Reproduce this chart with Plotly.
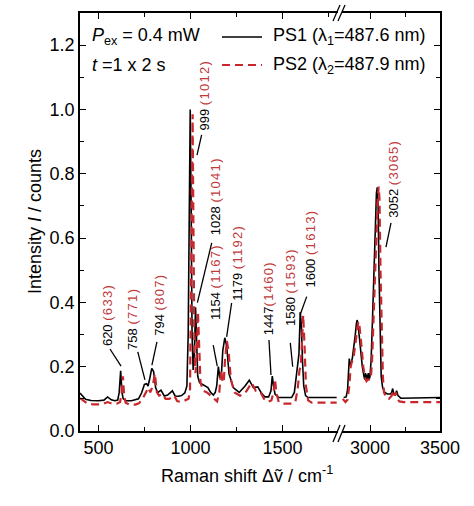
import plotly.graph_objects as go

# ---------------- data ----------------
# PS1 (black, solid) - low wavenumber segment
ps1_x_low = [400, 415, 430, 460, 500, 530, 550, 570, 590, 605, 613, 621, 628, 635, 650, 680, 700, 718, 735,
             750, 762, 770, 778, 790, 800, 811, 822, 840, 858, 876, 902, 917, 935, 952, 970, 981, 988, 994,
             999, 1004, 1009, 1015, 1022, 1028, 1034, 1040, 1050, 1065, 1080, 1095, 1110, 1125, 1135, 1143,
             1152, 1160, 1168, 1176, 1187, 1197, 1210, 1233, 1265, 1297, 1320, 1342, 1366, 1384, 1405, 1425,
             1438, 1445, 1452, 1460, 1478, 1510, 1550, 1565, 1575, 1583, 1590, 1597, 1603, 1609, 1616, 1626,
             1640, 1680, 1740, 1795]
ps1_y_low = [0.118, 0.108, 0.099, 0.095, 0.094, 0.096, 0.106, 0.097, 0.094, 0.096, 0.12, 0.187, 0.12, 0.10,
             0.094, 0.094, 0.096, 0.10, 0.119, 0.145, 0.147, 0.14, 0.16, 0.195, 0.185, 0.135, 0.119, 0.127,
             0.109, 0.112, 0.125, 0.109, 0.108, 0.11, 0.119, 0.14, 0.30, 0.70, 1.00, 0.70, 0.30, 0.19, 0.25,
             0.385, 0.25, 0.17, 0.15, 0.145, 0.14, 0.135, 0.12, 0.112, 0.12, 0.14, 0.20, 0.165, 0.17, 0.25,
             0.29, 0.265, 0.178, 0.135, 0.12, 0.14, 0.158, 0.135, 0.137, 0.12, 0.106, 0.106, 0.125, 0.171,
             0.14, 0.115, 0.104, 0.103, 0.104, 0.12, 0.17, 0.20, 0.24, 0.37, 0.33, 0.22, 0.14, 0.11, 0.104,
             0.104, 0.104, 0.104]

# PS2 (red, dashed) - low wavenumber segment
ps2_x_low = [400, 420, 440, 470, 520, 550, 575, 600, 618, 626, 633, 640, 648, 670, 700, 720, 740, 758, 771,
             782, 795, 807, 818, 830, 848, 865, 885, 912, 928, 950, 975, 990, 998, 1005, 1012, 1017, 1022,
             1028, 1035, 1041, 1047, 1055, 1070, 1090, 1110, 1130, 1145, 1157, 1167, 1175, 1182, 1188, 1198,
             1207, 1220, 1240, 1270, 1300, 1315, 1333, 1355, 1380, 1400, 1420, 1440, 1452, 1460, 1467, 1480,
             1510, 1550, 1570, 1583, 1593, 1600, 1607, 1613, 1620, 1628, 1640, 1660, 1720, 1795]
ps2_y_low = [0.102, 0.092, 0.085, 0.083, 0.083, 0.09, 0.085, 0.085, 0.09, 0.12, 0.17, 0.11, 0.088, 0.082,
             0.082, 0.086, 0.10, 0.12, 0.135, 0.12, 0.14, 0.178, 0.12, 0.11, 0.115, 0.10, 0.10, 0.11, 0.093,
             0.09, 0.095, 0.10, 0.13, 0.50, 0.985, 0.60, 0.25, 0.18, 0.25, 0.37, 0.25, 0.15, 0.125, 0.12,
             0.11, 0.10, 0.092, 0.12, 0.19, 0.15, 0.16, 0.22, 0.28, 0.25, 0.16, 0.12, 0.11, 0.12, 0.135,
             0.15, 0.125, 0.122, 0.10, 0.09, 0.095, 0.12, 0.16, 0.12, 0.09, 0.085, 0.085, 0.09, 0.13, 0.19,
             0.20, 0.28, 0.36, 0.27, 0.14, 0.095, 0.088, 0.088, 0.088]

# PS1 - high wavenumber segment
ps1_x_high = [2812, 2830, 2840, 2846, 2852, 2858, 2866, 2875, 2885, 2895, 2903, 2908, 2914, 2922, 2932, 2945,
              2957, 2963, 2968, 2973, 2978, 2983, 2988, 2994, 3000, 3008, 3018, 3028, 3038, 3046, 3052, 3058,
              3064, 3072, 3080, 3090, 3105, 3125, 3145, 3155, 3162, 3170, 3180, 3190, 3200, 3220, 3260, 3350,
              3440, 3500]
ps1_y_high = [0.104, 0.106, 0.13, 0.19, 0.225, 0.205, 0.21, 0.23, 0.26, 0.30, 0.335, 0.345, 0.335, 0.30,
              0.25, 0.20, 0.17, 0.16, 0.18, 0.16, 0.175, 0.16, 0.18, 0.16, 0.17, 0.22, 0.35, 0.52, 0.66,
              0.74, 0.758, 0.70, 0.50, 0.30, 0.17, 0.135, 0.12, 0.115, 0.115, 0.12, 0.132, 0.115, 0.112,
              0.125, 0.11, 0.102, 0.102, 0.102, 0.102, 0.104]

# PS2 - high wavenumber segment
ps2_x_high = [2805, 2825, 2840, 2852, 2862, 2870, 2880, 2892, 2905, 2915, 2922, 2930, 2940, 2952, 2965, 2975,
              2985, 2995, 3005, 3015, 3025, 3035, 3045, 3055, 3062, 3068, 3075, 3083, 3092, 3100, 3115, 3135,
              3155, 3168, 3175, 3185, 3195, 3210, 3240, 3300, 3400, 3500]
ps2_y_high = [0.10, 0.09, 0.098, 0.14, 0.20, 0.215, 0.22, 0.26, 0.31, 0.335, 0.34, 0.31, 0.26, 0.20, 0.165,
              0.155, 0.16, 0.16, 0.16, 0.22, 0.35, 0.50, 0.64, 0.72, 0.76, 0.72, 0.50, 0.30, 0.17, 0.12,
              0.105, 0.10, 0.11, 0.125, 0.11, 0.12, 0.10, 0.092, 0.09, 0.09, 0.09, 0.09]

# peak labels (PS1 value, PS2 value)
peaks_ps1 = [620, 758, 794, 999, 1028, 1154, 1179, 1447, 1580, 1600, 3052]
peaks_ps2 = [633, 771, 807, 1012, 1041, 1167, 1192, 1460, 1593, 1613, 3065]

x_ticks_low = [500, 1000, 1500]
x_ticks_high = [3000, 3500]

# ---------------- styling / layout ----------------
BLACK = "#000000"
RED = "#c8282d"
RED_TXT = "#c0393b"
FONT = "Arial, Liberation Sans, sans-serif"

W, H = 474, 506
ML, MR, MT, MB = 80, 34, 13, 75
PW, PH = W - ML - MR, H - MT - MB
split_left = (337.6 - ML) / PW
split_right = (342 - ML) / PW

fig = go.Figure()
fig.add_trace(go.Scatter(x=ps1_x_low, y=ps1_y_low, mode="lines", line=dict(color=BLACK, width=1.6),
                         xaxis="x", yaxis="y", name="PS1", showlegend=False))
fig.add_trace(go.Scatter(x=ps1_x_high, y=ps1_y_high, mode="lines", line=dict(color=BLACK, width=1.6),
                         xaxis="x2", yaxis="y2", name="PS1", showlegend=False))
fig.add_trace(go.Scatter(x=ps2_x_low, y=ps2_y_low, mode="lines",
                         line=dict(color=RED, width=2.2, dash="8px,5px"),
                         xaxis="x", yaxis="y", name="PS2", showlegend=False))
fig.add_trace(go.Scatter(x=ps2_x_high, y=ps2_y_high, mode="lines",
                         line=dict(color=RED, width=2.2, dash="8px,5px"),
                         xaxis="x2", yaxis="y2", name="PS2", showlegend=False))

axis_common = dict(showgrid=False, zeroline=False, showline=True, linecolor="black", linewidth=1.6,
                   ticks="inside", ticklen=6, tickwidth=1.4, tickcolor="black",
                   tickfont=dict(family=FONT, size=18, color="black"))

fig.update_layout(
    width=W, height=H, margin=dict(l=ML, r=MR, t=MT, b=MB, autoexpand=False),
    paper_bgcolor="white", plot_bgcolor="white",
    xaxis=dict(domain=[0, split_left], range=[400, 1800], anchor="y", mirror="ticks",
               tickvals=x_ticks_low, minor=dict(ticks="inside", ticklen=4, dtick=250, tick0=0,
                                                tickcolor="black", tickwidth=1.2),
               **axis_common),
    xaxis2=dict(domain=[split_right, 1], range=[2800, 3500], anchor="y2", mirror="ticks",
                tickvals=x_ticks_high, minor=dict(ticks="inside", ticklen=4, dtick=250, tick0=0,
                                                  tickcolor="black", tickwidth=1.2),
                **axis_common),
    yaxis=dict(domain=[0, 1], range=[0, 1.3], anchor="x", dtick=0.2, tickformat=".1f",
               minor=dict(ticks="inside", ticklen=4, dtick=0.1, tickcolor="black", tickwidth=1.2),
               **axis_common),
    yaxis2=dict(domain=[0, 1], matches="y", anchor="x2", side="right", showticklabels=False, dtick=0.2,
                minor=dict(ticks="inside", ticklen=4, dtick=0.1, tickcolor="black", tickwidth=1.2),
                **axis_common),
)


def px2paper_x(px):
    return (px - ML) / PW


def px2paper_y(py):
    return (H - MB - py) / PH


annotations = []
shapes = []

# axis titles
annotations.append(dict(xref="paper", yref="paper", x=px2paper_x(247), y=px2paper_y(475),
                        text="Raman shift Δṽ / cm<sup>-1</sup>", showarrow=False,
                        font=dict(family=FONT, size=18, color="black"), xanchor="center", yanchor="middle"))
annotations.append(dict(xref="paper", yref="paper", x=px2paper_x(35), y=0.5,
                        text="Intensity <i>I</i> / counts", textangle=-90, showarrow=False,
                        font=dict(family=FONT, size=18, color="black"), xanchor="center", yanchor="middle"))

# top-left conditions text
annotations.append(dict(xref="paper", yref="paper", x=px2paper_x(90), y=px2paper_y(37),
                        text="<i>P</i><sub>ex</sub> = 0.4 mW", showarrow=False, xanchor="left",
                        yanchor="middle", font=dict(family=FONT, size=18, color="black")))
annotations.append(dict(xref="paper", yref="paper", x=px2paper_x(90), y=px2paper_y(65),
                        text="<i>t</i> =1 x 2 s", showarrow=False, xanchor="left",
                        yanchor="middle", font=dict(family=FONT, size=18, color="black")))

# legend (manual)
legend_rows = [("PS1 (λ<sub>1</sub>=487.6 nm)", BLACK, "solid", 1.6, 37),
               ("PS2 (λ<sub>2</sub>=487.9 nm)", RED, "8px,5px", 2.2, 65)]
for txt, col, dash, lw, py in legend_rows:
    shapes.append(dict(type="line", xref="paper", yref="paper", x0=px2paper_x(222), x1=px2paper_x(262),
                       y0=px2paper_y(py), y1=px2paper_y(py), line=dict(color=col, width=lw, dash=dash)))
    annotations.append(dict(xref="paper", yref="paper", x=px2paper_x(271), y=px2paper_y(py), text=txt,
                            showarrow=False, xanchor="left", yanchor="middle",
                            font=dict(family=FONT, size=18, color="black")))

# axis break marks
for py0, py1 in [(21, 5), (442, 425)]:
    for dx in (0, 5):
        shapes.append(dict(type="line", xref="paper", yref="paper",
                           x0=px2paper_x(333 + dx), x1=px2paper_x(340 + dx),
                           y0=px2paper_y(py0), y1=px2paper_y(py1), line=dict(color="black", width=1.3)))

# peak labels: (axis, text centre x [data], text bottom y [data], leader start, leader end)
label_pos = [
    ("x", 547, 0.258, (563, 0.255), (623, 0.202)),
    ("x", 688, 0.246, (714, 0.246), (753, 0.159)),
    ("x", 835, 0.290, (818, 0.277), (791, 0.205)),
    ("x", 1074, 0.927, (1061, 0.921), (1036, 0.858)),
    ("x", 1134, 0.603, (1116, 0.585), (1038, 0.399)),
    ("x", 1134, 0.339, (1124, 0.267), (1146, 0.202)),
    ("x", 1252, 0.398, (1224, 0.398), (1197, 0.293)),
    ("x", 1423, 0.292, (1427, 0.283), (1438, 0.174)),
    ("x", 1541, 0.320, (1543, 0.274), (1556, 0.200)),
    ("x", 1654, 0.439, (1632, 0.418), (1596, 0.361)),
    ("x2", 3162, 0.656, (3150, 0.647), (3114, 0.572)),
]
for (b, r), (ax, tx, ty, s, e) in zip(zip(peaks_ps1, peaks_ps2), label_pos):
    yref = "y" if ax == "x" else "y2"
    sep = "" if b == 1447 else " "
    txt = f'{b}{sep}<span style="color:{RED_TXT};letter-spacing:1.3px">({r})</span>'
    annotations.append(dict(xref=ax, yref=yref, x=tx, y=ty, text=txt, textangle=-90, showarrow=False,
                            xanchor="center", yanchor="bottom",
                            font=dict(family=FONT, size=13, color="black")))
    shapes.append(dict(type="line", xref=ax, yref=yref, x0=s[0], y0=s[1], x1=e[0], y1=e[1],
                       line=dict(color="black", width=1.3)))

fig.update_layout(annotations=annotations, shapes=shapes)
fig.write_html("out.html", config={"displayModeBar": False},
               post_script="document.body.style.margin='0';document.body.style.overflow='hidden';")
